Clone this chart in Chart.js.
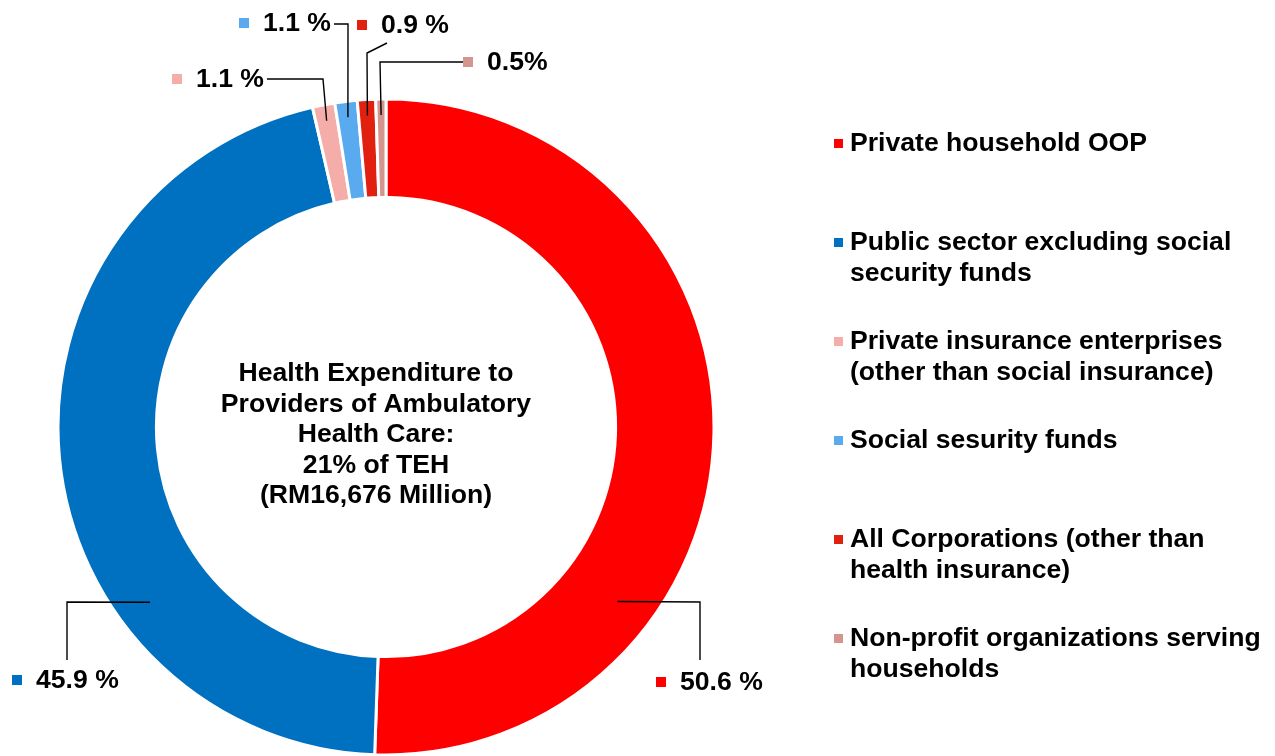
<!DOCTYPE html>
<html lang="en">
<head>
<meta charset="UTF-8">
<title>Health Expenditure to Providers of Ambulatory Health Care</title>
<script src="https://cdn.jsdelivr.net/npm/chart.js"></script>
<style>
  html, body { margin: 0; padding: 0; background: #fff; }
  #wrap { width: 1275px; height: 756px; }
</style>
</head>
<body>
<div id="wrap"><canvas id="tehChart" width="1275" height="756"></canvas></div>
<script>
const categories = [
  ['Private household OOP'],
  ['Public sector excluding social', 'security funds'],
  ['Private insurance enterprises', '(other than social insurance)'],
  ['Social sesurity funds'],
  ['All Corporations (other than', 'health insurance)'],
  ['Non-profit organizations serving', 'households']
];
const shares = [50.6, 45.9, 1.1, 1.1, 0.9, 0.5];
const shareLabels = ['50.6 %', '45.9 %', '1.1 %', '1.1 %', '0.9 %', '0.5%'];
const sliceColours = ['#FF0000', '#0070C0', '#F4ADA8', '#5AAAF0', '#E2200F', '#D4958F'];
const centreText = ['Health Expenditure to', 'Providers of Ambulatory', 'Health Care:', '21% of TEH', '(RM16,676 Million)'];

const FONT = 'bold 26.6px "Liberation Sans", Arial, sans-serif';

// where each leader line leaves the ring (angle in degrees, null = middle of slice),
// the points it bends through and the centre of the little colour box of the label
const labelLayout = [
  { angle: 37,    r: 290, path: [[700, 602], [700, 660]], box: [661, 682] },
  { angle: 143.4, r: 294, path: [[67, 602], [67, 660]],   box: [17, 680] },
  { angle: null,  r: 312, path: [[323, 79], [267, 79]],   box: [177, 79] },
  { angle: null,  r: 312, path: [[348, 24], [334, 24]],   box: [244, 23] },
  { angle: null,  r: 312, path: [[367, 53], [387, 43]],   box: [362, 25] },
  { angle: null,  r: 312, path: [[380, 62], [464, 62]],   box: [468, 62] }
];

const ringLabels = {
  id: 'ringLabels',
  afterDatasetsDraw(chart) {
    const ctx = chart.ctx;
    const arcs = chart.getDatasetMeta(0).data;
    ctx.save();
    ctx.font = FONT;
    ctx.textBaseline = 'middle';
    arcs.forEach((arc, i) => {
      const lay = labelLayout[i];
      const p = arc.getProps(['x', 'y', 'startAngle', 'endAngle'], true);
      const a = lay.angle != null ? lay.angle * Math.PI / 180 : (p.startAngle + p.endAngle) / 2;
      ctx.beginPath();
      ctx.moveTo(p.x + Math.cos(a) * lay.r, p.y + Math.sin(a) * lay.r);
      lay.path.forEach(pt => ctx.lineTo(pt[0], pt[1]));
      ctx.strokeStyle = '#000';
      ctx.lineWidth = 1.4;
      ctx.stroke();
      const [bx, by] = lay.box;
      ctx.fillStyle = sliceColours[i];
      ctx.fillRect(bx - 5, by - 5, 10, 10);
      ctx.fillStyle = '#000';
      ctx.fillText(shareLabels[i], bx + 19, by + 1);
    });
    ctx.restore();
  }
};

// title inside the hole, sits a little left of the ring centre
const centreTitle = {
  id: 'centreTitle',
  afterDraw(chart) {
    const ctx = chart.ctx;
    const arc = chart.getDatasetMeta(0).data[0];
    ctx.save();
    ctx.font = FONT;
    ctx.textAlign = 'center';
    ctx.textBaseline = 'middle';
    ctx.fillStyle = '#000';
    centreText.forEach((line, i) => ctx.fillText(line, arc.x - 10, arc.y - 53 + i * 30.5));
    ctx.restore();
  }
};

// legend drawn on the right, one entry every 99px
const sideLegend = {
  id: 'sideLegend',
  afterDraw(chart) {
    const ctx = chart.ctx;
    const colours = chart.data.datasets[0].backgroundColor;
    ctx.save();
    ctx.font = FONT;
    ctx.textBaseline = 'middle';
    chart.data.labels.forEach((lines, i) => {
      const y = 143 + i * 99;
      ctx.fillStyle = colours[i];
      ctx.fillRect(834, y - 4, 9, 9);
      ctx.fillStyle = '#000';
      lines.forEach((t, j) => ctx.fillText(t, 850, y + 1 + j * 31));
    });
    ctx.restore();
  }
};

new Chart(document.getElementById('tehChart'), {
  type: 'doughnut',
  data: {
    labels: categories,
    datasets: [{
      data: shares,
      backgroundColor: sliceColours,
      borderColor: '#fff',
      borderWidth: 3
    }]
  },
  options: {
    responsive: false,
    animation: false,
    radius: 328,
    cutout: '70%',
    layout: { padding: { left: 0, right: 503, top: 98, bottom: 0 } },
    plugins: {
      legend: { display: false },
      tooltip: { enabled: false }
    }
  },
  plugins: [ringLabels, centreTitle, sideLegend]
});
</script>
</body>
</html>
